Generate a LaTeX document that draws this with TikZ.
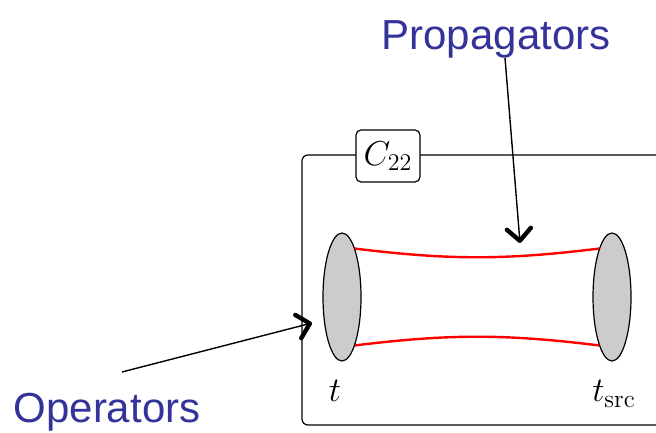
\documentclass[tikz,border=0pt]{standalone}
\usepackage{fontspec}
\newfontfamily\calloutfont{Liberation Sans}
\usetikzlibrary{positioning,shapes.geometric,arrows.meta,calc}
\definecolor{opblue}{RGB}{51,51,153}
\tikzset{
  callout/.style={font=\calloutfont\fontsize{21}{25}\selectfont,text=opblue,inner sep=0pt},
  blob/.style={ellipse,draw=black,line width=0.6pt,fill=gray!40,minimum width=19pt,minimum height=64pt,inner sep=0pt},
  tlabel/.style={font=\fontsize{18}{21}\selectfont,inner sep=0pt,anchor=base},
  corrbox/.style={draw=black,line width=0.6pt,rounded corners=2.5pt,fill=white,minimum width=32pt,minimum height=26pt,inner sep=1pt,font=\fontsize{18}{21}\selectfont},
  prop/.style={draw=red,line width=1.2pt},
  pointer/.style={-{Straight Barb[length=6pt,width=12pt,line width=2.2pt,round]},line width=0.7pt,draw=black}
}
\begin{document}
\begin{tikzpicture}[x=0.5pt,y=0.5pt]
\clip (0,0) rectangle (656,432);
% frame
\draw[line width=0.6pt,rounded corners=3pt] (302,7) rectangle (690,277);
\node[corrbox] (corr) at (388,276) {$C_{22}$};

\node[blob] (opL) at (342,135) {};
\node[blob] (opR) at (612,135) {};
\draw[prop] (opL.75) to[bend right=7] (opR.105);
\draw[prop] (opL.-75) to[bend left=7] (opR.-105);

\node[tlabel] (tsnk) at (335,30) {$t$};
\node[tlabel] (tsrc) at (614,30) {$t_{\mathrm{src}}$};

\node[callout,anchor=base] (propLbl) at (496,382) {Propagators};
\node[callout,anchor=base] (opLbl) at (107,10) {Operators};
\coordinate (propTail) at (505,374);
\coordinate (propTip) at (520,189);
\coordinate (opTail) at (122,60);
\coordinate (opTip) at (312,109);
\draw[pointer] (propTail) -- (propTip);
\draw[pointer] (opTail) -- (opTip);
\end{tikzpicture}
\end{document}
